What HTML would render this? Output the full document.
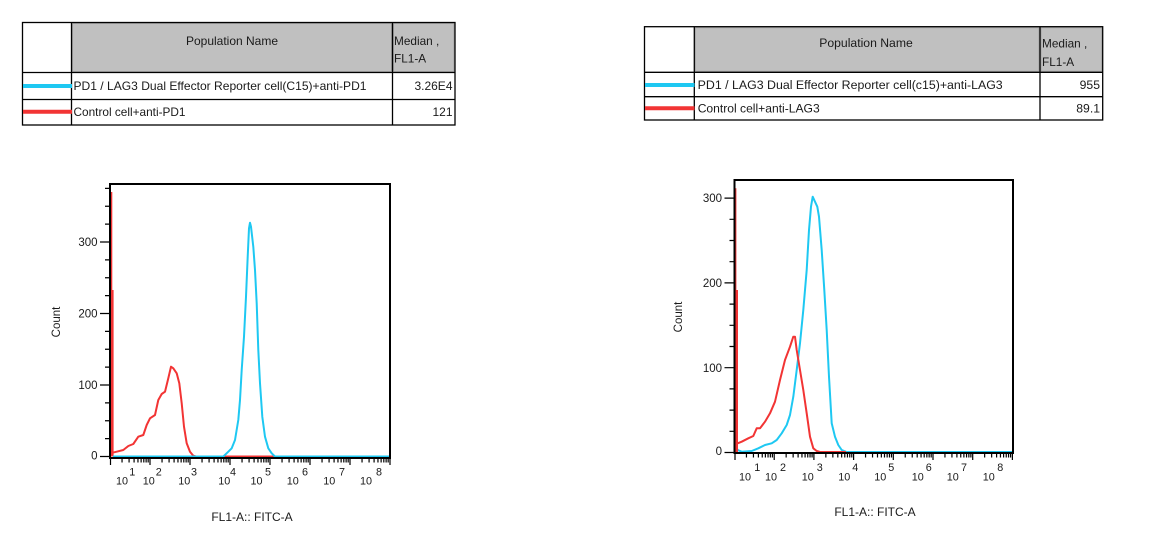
<!DOCTYPE html>
<html><head><meta charset="utf-8"><style>
html,body{margin:0;padding:0;background:#fff;}
svg{display:block;}
text{font-family:"Liberation Sans",Arial,sans-serif;fill:#1a1a1a;}
</style></head><body>
<svg width="1150" height="550" viewBox="0 0 1150 550" xmlns="http://www.w3.org/2000/svg">
<defs>
<g id="decL" stroke="#000" stroke-width="1.2">
<path d="M12.04,459V462.5M19.08,459V462.5M24.08,459V462.5M27.96,459V462.5M31.13,459V462.5M33.8,459V462.5M36.12,459V462.5M38.17,459V462.5M40,459V465"/>
</g>
<g id="decR" stroke="#000" stroke-width="1.2">
<path d="M11.95,454V457.5M18.94,454V457.5M23.9,454V457.5M27.75,454V457.5M30.89,454V457.5M33.55,454V457.5M35.85,454V457.5M37.88,454V457.5M39.7,454V460"/>
</g>
</defs>

<!-- LEFT TABLE -->
<rect x="72.5" y="23.5" width="319" height="48" fill="#c0c0c0" stroke="#a4a4a4" stroke-width="1"/>
<rect x="393.5" y="23.5" width="60.5" height="48" fill="#c0c0c0" stroke="#a4a4a4" stroke-width="1"/>
<g stroke="#000" stroke-width="1.3" fill="none">
<rect x="22.5" y="22.5" width="432.5" height="102.5"/>
<line x1="71.5" y1="22.5" x2="71.5" y2="125"/>
<line x1="392.5" y1="22.5" x2="392.5" y2="125"/>
<line x1="22.5" y1="72.5" x2="455" y2="72.5"/>
<line x1="22.5" y1="99.5" x2="455" y2="99.5"/>
</g>
<line x1="23" y1="86" x2="72" y2="86" stroke="#1ec8f2" stroke-width="4"/>
<line x1="23" y1="111.7" x2="72" y2="111.7" stroke="#f23434" stroke-width="4"/>
<text x="232" y="45" font-size="12" text-anchor="middle">Population Name</text>
<text x="394" y="45" font-size="11.8">Median ,</text>
<text x="394" y="62.5" font-size="11.8">FL1-A</text>
<text x="73.5" y="90.2" font-size="12" textLength="293" lengthAdjust="spacingAndGlyphs">PD1 / LAG3 Dual Effector Reporter cell(C15)+anti-PD1</text>
<text x="452.5" y="90.2" font-size="12" text-anchor="end">3.26E4</text>
<text x="73.5" y="116" font-size="12" textLength="112" lengthAdjust="spacingAndGlyphs">Control cell+anti-PD1</text>
<text x="452.5" y="116" font-size="12" text-anchor="end">121</text>

<!-- RIGHT TABLE -->
<rect x="695.3" y="27.7" width="343.7" height="43.6" fill="#c0c0c0" stroke="#a4a4a4" stroke-width="1"/>
<rect x="1041" y="27.7" width="60.7" height="43.6" fill="#c0c0c0" stroke="#a4a4a4" stroke-width="1"/>
<g stroke="#000" stroke-width="1.3" fill="none">
<rect x="644.5" y="26.7" width="458.2" height="93.3"/>
<line x1="694.3" y1="26.7" x2="694.3" y2="120"/>
<line x1="1040" y1="26.7" x2="1040" y2="120"/>
<line x1="644.5" y1="72.3" x2="1102.7" y2="72.3"/>
<line x1="644.5" y1="96.7" x2="1102.7" y2="96.7"/>
</g>
<line x1="645" y1="85" x2="694.5" y2="85" stroke="#1ec8f2" stroke-width="4"/>
<line x1="645" y1="108.3" x2="694.5" y2="108.3" stroke="#f23434" stroke-width="4"/>
<text x="866" y="47" font-size="12.2" text-anchor="middle">Population Name</text>
<text x="1042" y="47.5" font-size="11.8">Median ,</text>
<text x="1042" y="66" font-size="11.8">FL1-A</text>
<text x="697.7" y="89.2" font-size="12.2" textLength="305" lengthAdjust="spacingAndGlyphs">PD1 / LAG3 Dual Effector Reporter cell(c15)+anti-LAG3</text>
<text x="1100" y="89.2" font-size="12.2" text-anchor="end">955</text>
<text x="697.7" y="112.6" font-size="12.2" textLength="122" lengthAdjust="spacingAndGlyphs">Control cell+anti-LAG3</text>
<text x="1100" y="112.6" font-size="12.2" text-anchor="end">89.1</text>

<!-- LEFT PLOT -->
<g fill="none" stroke-linejoin="round">
<path d="M111.5,456.5V192M112.8,456.5V290" stroke="#f23434" stroke-width="1.6"/>
<polyline stroke="#f23434" stroke-width="2" points="112.5,452.7 116.7,451.7 123.3,450 128.3,446 133.3,444 138.3,436.7 143.3,435 146.7,425 150,418.3 155,415 158.3,400 161.7,394 165,391.7 168.3,378.3 171,366.7 173.3,368.3 176.7,373.3 179.3,383.3 181.7,403.3 184,426.7 186.7,443.3 190,451.7 193.3,455.7 196,456.5 390,456.5"/>
<polyline stroke="#1ec8f2" stroke-width="2" points="113,456.5 223.3,456.5 228.3,451.7 231.7,448.3 235,440 238.3,420 240,400 241.7,370 244,336.7 246,296.7 247.7,256.7 249,228.3 250,222.7 251,226.7 253.3,246.7 255,270 256.7,303.3 258.3,350 260,383.3 262.3,416.7 265,436.7 268.3,448.3 271.7,453.3 275,456.5 390,456.5"/>
</g>
<rect x="110" y="184" width="280" height="274" fill="none" stroke="#000" stroke-width="2"/>
<g stroke="#000" stroke-width="1.2">
<path d="M100,456.5H110M100,385H110M100,313.5H110M100,242H110"/>
<path d="M105,438.6H110M105,420.75H110M105,402.9H110M105,367.1H110M105,349.25H110M105,331.4H110M105,295.6H110M105,277.75H110M105,259.9H110M105,224.1H110M105,206.25H110M105,188.4H110"/>
<path d="M110.5,459V465"/>
</g>
<use href="#decL" x="110"/><use href="#decL" x="150"/><use href="#decL" x="190"/><use href="#decL" x="230"/><use href="#decL" x="270"/><use href="#decL" x="310"/><use href="#decL" x="350"/>
<g font-size="11.5" text-anchor="end">
<text x="97.5" y="245.8">300</text>
<text x="97.5" y="317.3">200</text>
<text x="97.5" y="388.8">100</text>
<text x="97.5" y="459.5">0</text>
</g>
<g font-size="10.8">
<text x="116" y="484.5">10</text><text x="129.3" y="475.5">1</text>
<text x="142.7" y="484.5">10</text><text x="155.7" y="475.5">2</text>
<text x="178.3" y="484.5">10</text><text x="191" y="475.5">3</text>
<text x="218.3" y="484.5">10</text><text x="230" y="475.5">4</text>
<text x="250.5" y="484.5">10</text><text x="265" y="475.5">5</text>
<text x="286.7" y="484.5">10</text><text x="302" y="475.5">6</text>
<text x="323.3" y="484.5">10</text><text x="339" y="475.5">7</text>
<text x="360" y="484.5">10</text><text x="376" y="475.5">8</text>
</g>
<text x="252" y="521" font-size="12" text-anchor="middle">FL1-A:: FITC-A</text>
<text transform="translate(60,322) rotate(-90)" font-size="11.5" text-anchor="middle">Count</text>

<!-- RIGHT PLOT -->
<g fill="none" stroke-linejoin="round">
<path d="M736.6,452V375" stroke="#1ec8f2" stroke-width="1.6"/>
<polyline stroke="#1ec8f2" stroke-width="2" points="736.6,448 737.7,450 741.7,451.7 751.7,451 758.3,448.3 765,445 771.7,443.3 776.7,440 781.7,433.3 786.7,425 790,415 793.3,396.7 796.7,370 800,343.3 803.3,310 806.7,270 809,230 811,206.7 812.7,196.7 815,201.7 817.3,206.7 819,216.7 821.7,250 824.3,290 826.7,330 829,376.7 831.7,423.3 835,436.7 838.3,445 841.7,450 846.7,452 1012,452"/>
<path d="M735.6,452V188.3M737.2,452V290" stroke="#f23434" stroke-width="1.6"/>
<polyline stroke="#f23434" stroke-width="2" points="737.7,443.3 741.7,441.7 748.3,438.3 753.3,436 756.7,428.3 760,428.3 765,421.7 770,413.3 775,401.7 780,380 785,360 790,346.7 793.3,336.7 795,336.7 796.7,350 800,370 803.3,390 806.7,413.3 810,436.7 813.3,448.3 816.7,451 820,452 846,452"/>
<polyline stroke="#1ec8f2" stroke-width="2" points="846.7,452 1012,452"/>
</g>
<rect x="734.5" y="180" width="278.5" height="273" fill="none" stroke="#000" stroke-width="2"/>
<g stroke="#000" stroke-width="1.2">
<path d="M724.5,452.5H734.5M724.5,367.7H734.5M724.5,282.9H734.5M724.5,198.1H734.5"/>
<path d="M729.5,431.3H734.5M729.5,410.1H734.5M729.5,388.9H734.5M729.5,346.5H734.5M729.5,325.3H734.5M729.5,304.1H734.5M729.5,261.7H734.5M729.5,240.5H734.5M729.5,219.3H734.5"/>
<path d="M735,454V460"/>
</g>
<use href="#decR" x="734.5"/><use href="#decR" x="774.2"/><use href="#decR" x="813.9"/><use href="#decR" x="853.6"/><use href="#decR" x="893.3"/><use href="#decR" x="933"/><use href="#decR" x="972.7"/>
<g font-size="11.5" text-anchor="end">
<text x="722" y="202.2">300</text>
<text x="722" y="287.2">200</text>
<text x="722" y="372.2">100</text>
<text x="722" y="455">0</text>
</g>
<g font-size="10.8">
<text x="739" y="480.5">10</text><text x="754.3" y="471">1</text>
<text x="765" y="480.5">10</text><text x="780" y="471">2</text>
<text x="801.7" y="480.5">10</text><text x="816.7" y="471">3</text>
<text x="838.3" y="480.5">10</text><text x="852.3" y="471">4</text>
<text x="874.3" y="480.5">10</text><text x="888.3" y="471">5</text>
<text x="911.7" y="480.5">10</text><text x="925.7" y="471">6</text>
<text x="946.7" y="480.5">10</text><text x="961" y="471">7</text>
<text x="982.7" y="480.5">10</text><text x="997.3" y="471">8</text>
</g>
<text x="875" y="516" font-size="12" text-anchor="middle">FL1-A:: FITC-A</text>
<text transform="translate(682,317) rotate(-90)" font-size="11.5" text-anchor="middle">Count</text>
</svg>
</body></html>
